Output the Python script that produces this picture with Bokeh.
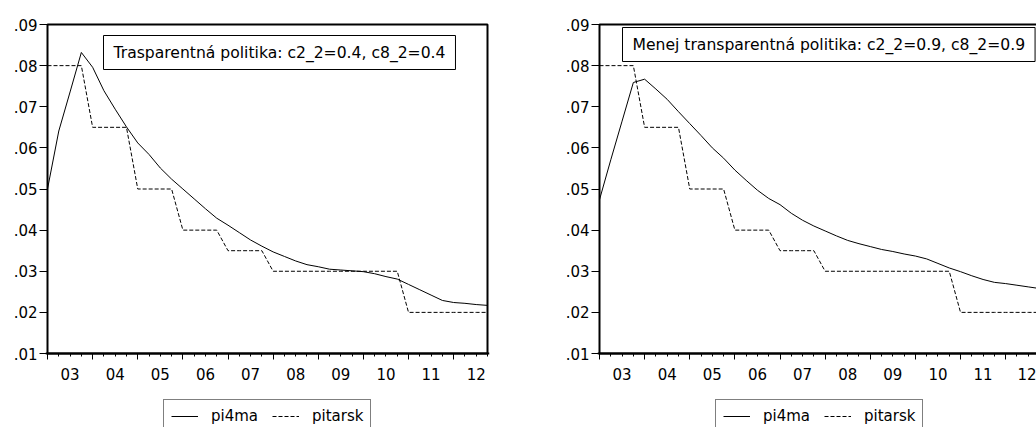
from bokeh.plotting import figure
from bokeh.models import (Range1d, FixedTicker, LinearAxis, Legend, LegendItem,
                          Label, BoxAnnotation)
from bokeh.layouts import row
from bokeh.embed import file_html
from bokeh.resources import INLINE

# ---------------- data ----------------
years = [2003, 2004, 2005, 2006, 2007, 2008, 2009, 2010, 2011, 2012]
year_labels = ["03", "04", "05", "06", "07", "08", "09", "10", "11", "12"]
quarters = [f"{y}Q{q}" for y in years for q in (1, 2, 3, 4)]
# quarterly position on a continuous year axis
x = [int(q[:4]) + (int(q[-1]) - 1) * 0.25 for q in quarters]

left_pi4ma = [0.0500, 0.0641, 0.0736, 0.0832, 0.0796, 0.0739, 0.0694, 0.0651,
              0.0612, 0.0584, 0.0551, 0.0524, 0.0500, 0.0476, 0.0452, 0.0429,
              0.0412, 0.0394, 0.0376, 0.0361, 0.0347, 0.0336, 0.0325, 0.0316,
              0.0311, 0.0305, 0.0303, 0.0301, 0.0299, 0.0294, 0.0287, 0.0281,
              0.0268, 0.0255, 0.0242, 0.0229, 0.0224, 0.0222, 0.0219, 0.0217]
right_pi4ma = [0.0474, 0.0571, 0.0665, 0.0759, 0.0767, 0.0743, 0.0718, 0.0688,
               0.0659, 0.0630, 0.0600, 0.0575, 0.0546, 0.0521, 0.0497, 0.0477,
               0.0462, 0.0441, 0.0424, 0.0410, 0.0398, 0.0386, 0.0375, 0.0367,
               0.0360, 0.0353, 0.0348, 0.0342, 0.0337, 0.0330, 0.0319, 0.0308,
               0.0299, 0.0289, 0.0280, 0.0273, 0.0270, 0.0266, 0.0262, 0.0258]
pitarsk = [0.080, 0.080, 0.080, 0.080, 0.065, 0.065, 0.065, 0.065,
           0.050, 0.050, 0.050, 0.050, 0.040, 0.040, 0.040, 0.040,
           0.035, 0.035, 0.035, 0.035, 0.030, 0.030, 0.030, 0.030,
           0.030, 0.030, 0.030, 0.030, 0.030, 0.030, 0.030, 0.030,
           0.020, 0.020, 0.020, 0.020, 0.020, 0.020, 0.020, 0.020]

y_ticks = [0.01, 0.02, 0.03, 0.04, 0.05, 0.06, 0.07, 0.08, 0.09]
y_tick_labels = [".01", ".02", ".03", ".04", ".05", ".06", ".07", ".08", ".09"]
Y_MIN, Y_MAX = 0.01, 0.09
X_MIN, X_MAX = 2003.0, 2012.75

series_names = ["pi4ma", "pitarsk"]
left_title = "Trasparentná politika: c2_2=0.4, c8_2=0.4"
right_title = "Menej transparentná politika: c2_2=0.9, c8_2=0.9"

FONT = "DejaVu Sans"
# scale: the value box is 440 px wide and 329 px tall
YPX = (Y_MAX - Y_MIN) / 329
XPX = (X_MAX - X_MIN) / 440
# frame: 2 px spare on the left/top/right so the box border is not clipped,
# and it runs to the canvas bottom so the legend can sit inside it
Y_LOW = Y_MIN - 74 * YPX
Y_HIGH = Y_MAX + 2 * YPX


def make_panel(pi4ma, title_text, width, x_end, mb_left, mb_right, box_x, box_y):
    p = figure(width=width, height=427,
               x_range=Range1d(X_MIN - 2 * XPX, x_end), y_range=Range1d(Y_LOW, Y_HIGH),
               x_axis_location=None, y_axis_location=None,
               output_backend="svg", toolbar_location=None,
               min_border_left=mb_left, min_border_right=mb_right,
               min_border_top=22, min_border_bottom=0)
    p.xgrid.visible = False
    p.ygrid.visible = False
    p.outline_line_color = None
    p.background_fill_color = "white"
    p.border_fill_color = "white"

    # plot box
    p.add_layout(BoxAnnotation(left=X_MIN, right=X_MAX, bottom=Y_MIN, top=Y_MAX,
                               fill_color=None, fill_alpha=0,
                               line_color="black", line_width=2, line_alpha=1))

    # y axis
    yax = LinearAxis(ticker=FixedTicker(ticks=y_ticks), bounds=(Y_MIN, Y_MAX),
                     major_label_overrides=dict(zip(y_ticks, y_tick_labels)),
                     major_tick_out=6, major_tick_in=2,
                     minor_tick_line_color=None,
                     axis_line_color=None,
                     major_tick_line_color="black",
                     major_label_standoff=2,
                     major_label_text_font=FONT,
                     major_label_text_font_size="15px",
                     major_label_text_color="black")
    p.add_layout(yax, "left")

    # x axis: tick marks (year starts long, quarters short), drawn at Y_MIN
    xax = LinearAxis(ticker=FixedTicker(ticks=[float(y) for y in years], minor_ticks=x),
                     fixed_location=Y_MIN,
                     major_tick_out=6, major_tick_in=0,
                     minor_tick_out=3, minor_tick_in=0,
                     axis_line_width=2, axis_line_color="black",
                     major_tick_line_color="black", minor_tick_line_color="black",
                     major_label_text_font_size="0px", major_label_text_alpha=0,
                     major_label_standoff=0)
    p.add_layout(xax, "below")

    # x axis: year labels centred in each year
    label_pos = [y + 0.5 for y in years]
    xlab = LinearAxis(ticker=FixedTicker(ticks=label_pos), fixed_location=Y_MIN,
                      major_label_overrides=dict(zip(label_pos, year_labels)),
                      axis_line_color=None, major_tick_line_color=None,
                      minor_tick_line_color=None,
                      major_tick_out=0, major_tick_in=0,
                      minor_tick_out=0, minor_tick_in=0,
                      major_label_standoff=14,
                      major_label_text_font=FONT,
                      major_label_text_font_size="15px",
                      major_label_text_color="black")
    p.add_layout(xlab, "below")

    r1 = p.line(x, pi4ma, line_color="black", line_width=1)
    r2 = p.line(x, pitarsk, line_color="black", line_width=1, line_dash="4 2")

    legend = Legend(items=[LegendItem(label=series_names[0], renderers=[r1]),
                           LegendItem(label=series_names[1], renderers=[r2])],
                    orientation="horizontal", location=(118, -6),
                    padding=7, spacing=14, label_standoff=13,
                    glyph_width=27, glyph_height=18, label_height=18,
                    label_text_font=FONT, label_text_font_size="15px",
                    label_text_color="black",
                    border_line_color="black", border_line_width=1,
                    background_fill_color="white", background_fill_alpha=1,
                    margin=0)
    p.add_layout(legend, "center")

    lab = Label(x=box_x, y=box_y, x_units="data", y_units="data",
                text=title_text, anchor="top_left",
                text_font=FONT, text_font_size="15.6px", text_color="black",
                padding=dict(left=10, right=10, top=8, bottom=8),
                border_line_color="black", border_line_width=1,
                background_fill_color="white")
    p.add_layout(lab)
    return p


# left panel: box 47..487 px inside a 45..489 px frame
p1 = make_panel(left_pi4ma, left_title, 520, X_MAX + 2 * XPX, 45, 31, 2004.241, 0.087325)
# right panel: box starts at 599 px and is cut by the window edge at 1036 px
p2 = make_panel(right_pi4ma, right_title, 516, X_MIN + 437 * XPX, 77, 0, 2003.51, 0.08927)

layout = row(p1, p2)
open("out.html", "w").write(file_html(layout, INLINE))
